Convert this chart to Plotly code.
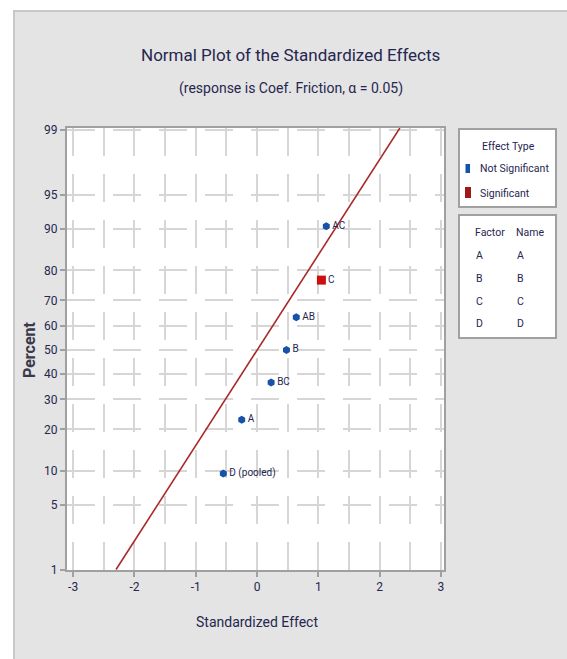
import plotly.graph_objects as go
from statistics import NormalDist

# ---- data ----
effect_names = ["D (pooled)", "A", "BC", "B", "AB", "C", "AC"]
effect_values = [-0.55, -0.25, 0.23, 0.48, 0.64, 1.05, 1.13]
effect_percent = [9.5, 23.0, 36.5, 50.0, 63.5, 77.0, 90.5]
effect_significant = [False, False, False, False, False, True, False]

ref_line_effect = [-2.30, 2.33]
ref_line_percent = [1.0, 99.06]

percent_ticks = [1, 5, 10, 20, 30, 40, 50, 60, 70, 80, 90, 95, 99]
x_ticks = [-3, -2, -1, 0, 1, 2, 3]

factor_codes = ["A", "B", "C", "D"]
factor_names = ["A", "B", "C", "D"]

nd = NormalDist()
def z(p):
    return nd.inv_cdf(p / 100.0)

FONT = "Roboto, Liberation Sans Narrow, sans-serif"
TXT = "#262650"
BLUE = "#1552a8"
RED = "#cc1010"
LINE_RED = "#a82a2a"
GRID = "#d6d6d6"
AXC = "#a0a0a0"

W, H = 567, 659
L, R, T, B = 67, 444, 128, 570

def px(x):
    return (x - L) / (R - L)

def py(y):
    return (B - y) / (B - T)

fig = go.Figure()

# reference line
fig.add_trace(go.Scatter(
    x=ref_line_effect, y=[z(p) for p in ref_line_percent],
    mode="lines", line=dict(color=LINE_RED, width=1.6),
    hoverinfo="skip", showlegend=False, cliponaxis=True))

ns_x = [v for v, s in zip(effect_values, effect_significant) if not s]
ns_y = [z(p) for p, s in zip(effect_percent, effect_significant) if not s]
ns_t = [n for n, s in zip(effect_names, effect_significant) if not s]
sg_x = [v for v, s in zip(effect_values, effect_significant) if s]
sg_y = [z(p) for p, s in zip(effect_percent, effect_significant) if s]
sg_t = [n for n, s in zip(effect_names, effect_significant) if s]

fig.add_trace(go.Scatter(
    x=ns_x, y=ns_y, text=ns_t, mode="markers+text",
    textposition="middle right",
    textfont=dict(family=FONT, size=10, color=TXT),
    marker=dict(symbol="hexagon", size=8, color=BLUE),
    showlegend=False, cliponaxis=False))
fig.add_trace(go.Scatter(
    x=sg_x, y=sg_y, text=sg_t, mode="markers+text",
    textposition="middle right",
    textfont=dict(family=FONT, size=10, color=TXT),
    marker=dict(symbol="square", size=9, color=RED),
    showlegend=False, cliponaxis=False))

shapes = []
# outer white strips and frame
shapes.append(dict(type="rect", xref="paper", yref="paper",
                   x0=px(0), x1=px(13), y0=py(H), y1=py(0),
                   fillcolor="white", line=dict(width=0), layer="below"))
shapes.append(dict(type="rect", xref="paper", yref="paper",
                   x0=px(0), x1=px(W), y0=py(10), y1=py(0),
                   fillcolor="white", line=dict(width=0), layer="below"))
shapes.append(dict(type="line", xref="paper", yref="paper",
                   x0=px(14), x1=px(14), y0=py(H), y1=py(11),
                   line=dict(color="#c8c8c8", width=2)))
shapes.append(dict(type="line", xref="paper", yref="paper",
                   x0=px(13), x1=px(W), y0=py(11), y1=py(11),
                   line=dict(color="#c8c8c8", width=2)))
# legend boxes
shapes.append(dict(type="rect", xref="paper", yref="paper",
                   x0=px(459), x1=px(556), y0=py(207), y1=py(129),
                   fillcolor="white", line=dict(color=AXC, width=2)))
shapes.append(dict(type="rect", xref="paper", yref="paper",
                   x0=px(459), x1=px(556), y0=py(338), y1=py(215),
                   fillcolor="white", line=dict(color=AXC, width=2)))
# legend markers
shapes.append(dict(type="rect", xref="paper", yref="paper",
                   x0=px(465.5), x1=px(470), y0=py(173), y1=py(164),
                   fillcolor=BLUE, line=dict(width=0)))
shapes.append(dict(type="rect", xref="paper", yref="paper",
                   x0=px(465), x1=px(471), y0=py(198), y1=py(187),
                   fillcolor="#a01818", line=dict(width=0)))

ann = []
ann.append(dict(text="Normal Plot of the Standardized Effects",
                x=px(290), y=py(55), xref="paper", yref="paper",
                showarrow=False, xanchor="center", yanchor="middle",
                font=dict(family=FONT, size=17, color=TXT)))
ann.append(dict(text="(response is Coef. Friction, \u03b1 = 0.05)",
                x=px(291), y=py(88), xref="paper", yref="paper",
                showarrow=False, xanchor="center", yanchor="middle",
                font=dict(family=FONT, size=14, color=TXT)))
ann.append(dict(text="Effect Type", x=px(480), y=py(147), xref="paper", yref="paper",
                showarrow=False, xanchor="left", yanchor="middle",
                font=dict(family=FONT, size=10.5, color=TXT)))
ann.append(dict(text="Not Significant", x=px(478), y=py(168), xref="paper", yref="paper",
                showarrow=False, xanchor="left", yanchor="middle",
                font=dict(family=FONT, size=10.5, color=TXT)))
ann.append(dict(text="Significant", x=px(478), y=py(193), xref="paper", yref="paper",
                showarrow=False, xanchor="left", yanchor="middle",
                font=dict(family=FONT, size=10.5, color=TXT)))
ann.append(dict(text="Factor", x=px(473), y=py(232), xref="paper", yref="paper",
                showarrow=False, xanchor="left", yanchor="middle",
                font=dict(family=FONT, size=10.5, color=TXT)))
ann.append(dict(text="Name", x=px(514), y=py(232), xref="paper", yref="paper",
                showarrow=False, xanchor="left", yanchor="middle",
                font=dict(family=FONT, size=10.5, color=TXT)))
row_y = [255, 278, 301, 323]
for code, name, yy in zip(factor_codes, factor_names, row_y):
    ann.append(dict(text=code, x=px(474), y=py(yy), xref="paper", yref="paper",
                    showarrow=False, xanchor="left", yanchor="middle",
                    font=dict(family=FONT, size=10.5, color=TXT)))
    ann.append(dict(text=name, x=px(515), y=py(yy), xref="paper", yref="paper",
                    showarrow=False, xanchor="left", yanchor="middle",
                    font=dict(family=FONT, size=10.5, color=TXT)))
ann.append(dict(text="Standardized Effect", x=px(257), y=py(622), xref="paper", yref="paper",
                showarrow=False, xanchor="center", yanchor="middle",
                font=dict(family=FONT, size=14, color=TXT)))
ann.append(dict(text="<b>Percent</b>", x=px(29), y=py(350), xref="paper", yref="paper",
                showarrow=False, xanchor="center", yanchor="middle", textangle=-90,
                font=dict(family=FONT, size=16, color="#3a3a4a")))

fig.update_layout(
    width=W, height=H,
    margin=dict(l=L, r=W - R, t=T, b=H - B, pad=0),
    paper_bgcolor="#e4e4e4", plot_bgcolor="white",
    shapes=shapes, annotations=ann, showlegend=False,
    font=dict(family=FONT, color=TXT),
    xaxis=dict(range=[-3.1, 3.05], tickmode="array", tickvals=x_ticks,
               ticktext=[str(v) for v in x_ticks],
               showgrid=True, gridcolor=GRID, gridwidth=2, griddash="28px,18px",
               minor=dict(tickmode="linear", tick0=-3, dtick=0.5, showgrid=True,
                          gridcolor=GRID, gridwidth=2, griddash="28px,18px", ticks=""),
               showline=True, linecolor=AXC, linewidth=2, mirror=True,
               ticks="outside", ticklen=5, tickcolor=AXC, tickwidth=1.5,
               tickfont=dict(family=FONT, size=12, color=TXT),
               zeroline=False, fixedrange=True),
    yaxis=dict(range=[z(1.0) - 0.005, 2.35], tickmode="array",
               tickvals=[z(p) for p in percent_ticks],
               ticktext=[str(p) for p in percent_ticks],
               showgrid=True, gridcolor=GRID, gridwidth=2, griddash="28px,18px",
               showline=True, linecolor=AXC, linewidth=2, mirror=True,
               ticks="outside", ticklen=5, tickcolor=AXC, tickwidth=1.5,
               tickfont=dict(family=FONT, size=12, color=TXT),
               zeroline=False, fixedrange=True),
)

fig.write_html("out.html")
